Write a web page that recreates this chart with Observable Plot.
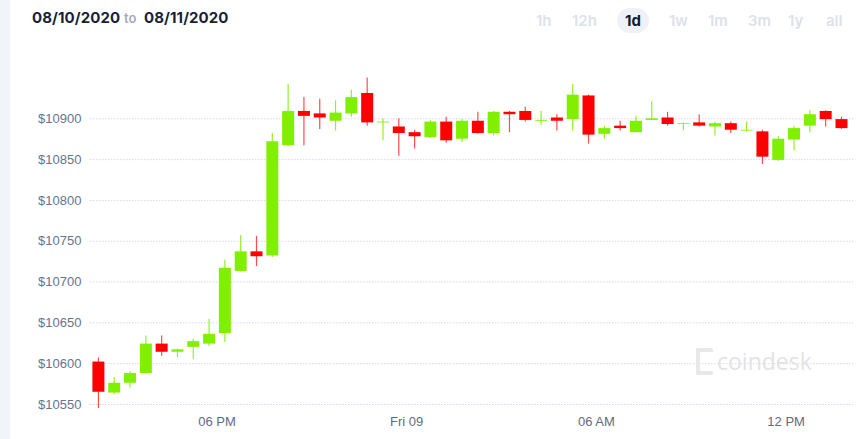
<!DOCTYPE html>
<html>
<head>
<meta charset="utf-8">
<script src="https://cdn.jsdelivr.net/npm/d3@7"></script>
<script src="https://cdn.jsdelivr.net/npm/@observablehq/plot@0.6"></script>
<style>
  html, body { margin: 0; padding: 0; background: #fff; overflow: hidden; }
  body { width: 866px; height: 439px; position: relative; font-family: Inter, "Liberation Sans", sans-serif; }
  #strip { position: absolute; left: 0; top: 0; width: 10px; height: 439px; background: #f1f4f9; }
  #header { position: relative; height: 40px; }
  .d { position: absolute; top: 8px; font-size: 15px; font-weight: 700; color: #1a1f36; letter-spacing: 0.1px; }
  .to { position: absolute; top: 10px; font-size: 13px; font-weight: 600; color: #a3abbb; }
  .btn { position: absolute; top: 11px; font-size: 15px; font-weight: 600; color: #dde1ea; }
  .pill { position: absolute; left: 617px; top: 8px; width: 32px; height: 25px; border-radius: 13px; background: #eef2f8; }
  .sel { color: #141a33; font-weight: 700; }
  #chart { position: absolute; left: 0; top: 40px; }
  #wm { position: absolute; left: 696px; top: 345px; display: flex; align-items: center; color: #e3e3e3; font-family: "Open Sans", sans-serif; font-size: 23px; }
  #wm .logo { width: 13px; height: 19px; border: 4px solid #e8e8e8; border-right: none; margin-right: 4px; border-radius: 2px; }
</style>
</head>
<body>
<div id="strip"></div>
<div id="header">
  <span class="d" style="left:32px">08/10/2020</span>
  <span class="to" style="left:124px">to</span>
  <span class="d" style="left:144px">08/11/2020</span>
  <div class="pill"></div>
</div>
<div id="chart"></div>
<div id="wm"><div class="logo"></div><span>coindesk</span></div>
<script>
const rangeButtons = ["1h", "12h", "1d", "1w", "1m", "3m", "1y", "all"];
const selectedRange = "1d";

// hours from midnight of first day (candle centers, 30-minute candles)
const times = [14.25,14.75,15.25,15.75,16.25,16.75,17.25,17.75,18.25,18.75,19.25,19.75,
  20.25,20.75,21.25,21.75,22.25,22.75,23.25,23.75,24.25,24.75,25.25,25.75,
  26.25,26.75,27.25,27.75,28.25,28.75,29.25,29.75,30.25,30.75,31.25,31.75,
  32.25,32.75,33.25,33.75,34.25,34.75,35.25,35.75,36.25,36.75,37.25,37.75];
const opens  = [10602,10564,10576,10588,10624,10614,10620,10624,10637,10713,10737,10732,
  10867,10909,10906,10897,10906,10931,10895,10890,10883,10877,10896,10875,
  10897,10882,10908,10909,10897,10901,10899,10928,10881,10891,10883,10898,
  10901,10893,10895,10890,10894,10885,10884,10849,10874,10891,10909,10899];
const highs  = [10607,10583,10590,10634,10634,10618,10630,10654,10727,10757,10756,10882,
  10942,10926,10924,10922,10935,10950,10900,10900,10886,10898,10902,10899,
  10908,10909,10909,10914,10909,10905,10942,10929,10891,10897,10903,10921,
  10908,10895,10905,10896,10896,10896,10886,10878,10891,10910,10910,10902];
const lows   = [10545,10562,10570,10587,10609,10607,10605,10621,10626,10712,10719,10730,
  10866,10867,10887,10885,10902,10891,10873,10854,10863,10876,10870,10871,
  10881,10879,10883,10896,10892,10885,10885,10869,10875,10885,10883,10898,
  10891,10885,10890,10879,10882,10884,10844,10848,10861,10883,10890,10887];
const closes = [10565,10576,10588,10624,10614,10617,10627,10636,10717,10737,10731,10872,
  10909,10903,10901,10907,10926,10895,10896,10882,10878,10896,10873,10897,
  10882,10908,10905,10898,10898,10897,10929,10880,10888,10888,10897,10900,
  10893,10894,10891,10894,10886,10886,10853,10875,10888,10905,10899,10888];

const yTicks = [10550, 10600, 10650, 10700, 10750, 10800, 10850, 10900];
const xTicks = [18, 24, 30, 36];
const xTickLabels = ["06 PM", "Fri 09", "06 AM", "12 PM"];

// header buttons
const btnLeft = {"1h":536,"12h":572,"1d":625,"1w":669,"1m":708,"3m":748,"1y":788,"all":826};
const header = document.getElementById("header");
for (const b of rangeButtons) {
  const s = document.createElement("span");
  s.className = "btn" + (b === selectedRange ? " sel" : "");
  s.style.left = btnLeft[b] + "px";
  s.textContent = b;
  header.appendChild(s);
}

const data = times.map((t, i) => ({t, open: opens[i], high: highs[i], low: lows[i], close: closes[i]}));
const up = d => d.close >= d.open;
const down = d => d.close < d.open;
const GREEN = "#80f000", RED = "#ff0000";

const chart = Plot.plot({
  width: 866,
  height: 399,
  marginLeft: 90,
  marginRight: 13,
  marginTop: 78.3,
  marginBottom: 35,
  style: {background: "transparent", fontFamily: "'Liberation Sans', Arial, sans-serif", fontSize: "13px"},
  x: {domain: [14.0, 38.13]},
  y: {domain: [10550, 10900]},
  marks: [
    Plot.gridY(yTicks, {stroke: "#d3d7f2", strokeOpacity: 1, strokeDasharray: "1.5,1.5"}),
    Plot.axisY({ticks: yTicks, tickFormat: d => "$" + d, tickSize: 0, tickPadding: 9, fill: "#66758c", label: null, fontSize: 13}),
    Plot.axisX({ticks: xTicks, tickFormat: d => xTickLabels[xTicks.indexOf(d)], tickSize: 0, tickPadding: 12, fill: "#5f6b80", label: null, fontSize: 13}),
    Plot.ruleX(data, {filter: up, x: "t", y1: "low", y2: "high", stroke: GREEN, strokeWidth: 1.2, strokeOpacity: 0.85}),
    Plot.ruleX(data, {filter: down, x: "t", y1: "low", y2: "high", stroke: RED, strokeWidth: 1.2, strokeOpacity: 0.7}),
    Plot.ruleX(data, {filter: up, x: "t", y1: "open", y2: "close", stroke: GREEN, strokeWidth: 12}),
    Plot.ruleX(data, {filter: down, x: "t", y1: "open", y2: "close", stroke: RED, strokeWidth: 12})
  ]
});
document.getElementById("chart").appendChild(chart);
</script>
</body>
</html>
